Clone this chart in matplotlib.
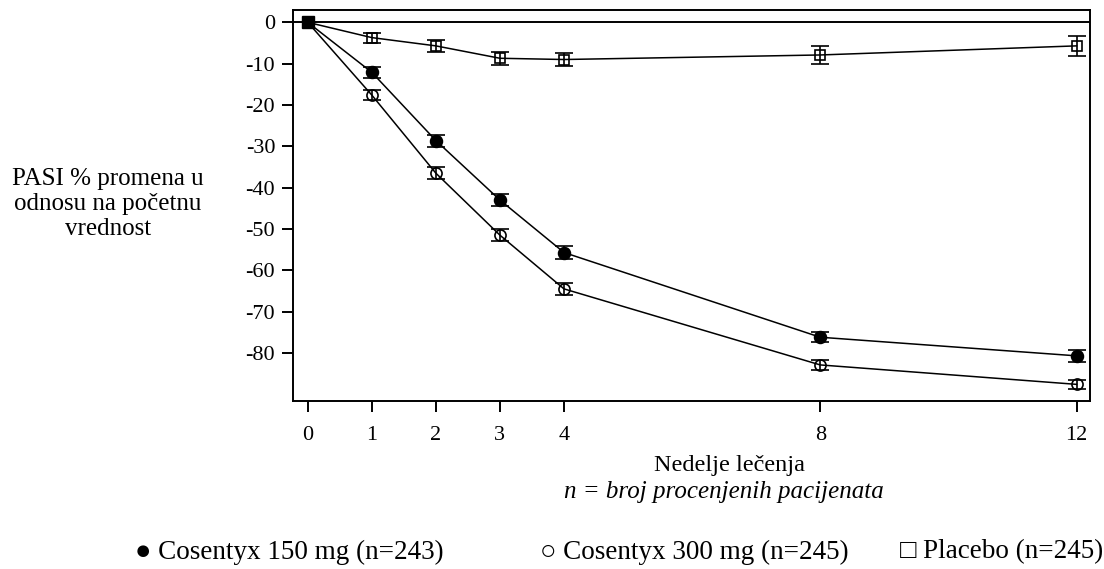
import matplotlib
matplotlib.use("Agg")
import matplotlib.pyplot as plt

weeks = [1, 2, 3, 4, 8, 12]
cos150 = [-12.1, -28.6, -43.0, -55.7, -76.2, -80.7]
cos150_err = [1.3, 1.45, 1.45, 1.5, 1.2, 1.45]
cos300 = [-17.6, -36.5, -51.5, -64.5, -82.9, -87.6]
cos300_err = [1.2, 1.5, 1.45, 1.5, 1.2, 1.1]
placebo = [-3.7, -5.7, -8.7, -9.0, -7.9, -5.7]
placebo_err = [1.2, 1.5, 1.6, 1.6, 2.1, 2.4]
baseline_week = 0
baseline_value = 0.0

xticks = [0, 1, 2, 3, 4, 8, 12]
yticks = [0, -10, -20, -30, -40, -50, -60, -70, -80]

plt.rcParams['font.family'] = ['Liberation Serif', 'DejaVu Sans']

W, H = 1104, 569
fig = plt.figure(figsize=(W / 100, H / 100), dpi=100)
ax = fig.add_axes([293.3 / W, 1 - 401.3 / H, (1090 - 293.3) / W, (401.3 - 10) / H])

lw = 1.1
for vals, errs, mfc, ms, mk in [
    (placebo, placebo_err, 'none', 7.5, 's'),
    (cos150, cos150_err, 'black', 8.5, 'o'),
    (cos300, cos300_err, 'none', 8.0, 'o'),
]:
    ax.plot([baseline_week] + weeks, [baseline_value] + vals, color='black', lw=lw, zorder=3)
    ax.errorbar(weeks, vals, yerr=errs, fmt=mk, color='black', mfc=mfc, mec='black',
                ms=ms, mew=1.2, elinewidth=1.2, capsize=6.5, capthick=1.6, zorder=4)

ax.plot([baseline_week], [baseline_value], marker='s', color='black', ms=8.5, zorder=5)
ax.axhline(0, color='black', lw=1.4, zorder=2)

ax.set_xlim(-0.225, 12.21)
ax.set_ylim(-91.7, 2.98)
ax.set_xticks(xticks)
ax.set_yticks(yticks)
ax.set_xticklabels([str(v) for v in xticks])
ax.set_yticklabels([str(v) for v in yticks])
ax.tick_params(axis='both', direction='out', length=8, width=1.4, labelsize=16, colors='black')
ax.tick_params(axis='y', pad=5)
ax.tick_params(axis='x', pad=10)
for s in ax.spines.values():
    s.set_linewidth(1.4)
    s.set_color('black')

fig.text(108 / W, 1 - 204 / H, "PASI % promena u\nodnosu na početnu\nvrednost",
         ha='center', va='center', fontsize=18, linespacing=1.15)

fig.text(729 / W, 1 - 466 / H, "Nedelje lečenja", ha='center', va='center', fontsize=17.5)
fig.text(724 / W, 1 - 492 / H, "n = broj procenjenih pacijenata", ha='center', va='center',
         fontsize=18, style='italic')

fig.text(135 / W, 1 - 552 / H, "● Cosentyx 150 mg (n=243)", ha='left', va='center', fontsize=19.5)
fig.text(540 / W, 1 - 552 / H, "○ Cosentyx 300 mg (n=245)", ha='left', va='center', fontsize=19.5)
fig.text(900 / W, 1 - 552 / H, "□ Placebo (n=245)", ha='left', va='center', fontsize=19.5)

fig.savefig("out.png", dpi=100)
